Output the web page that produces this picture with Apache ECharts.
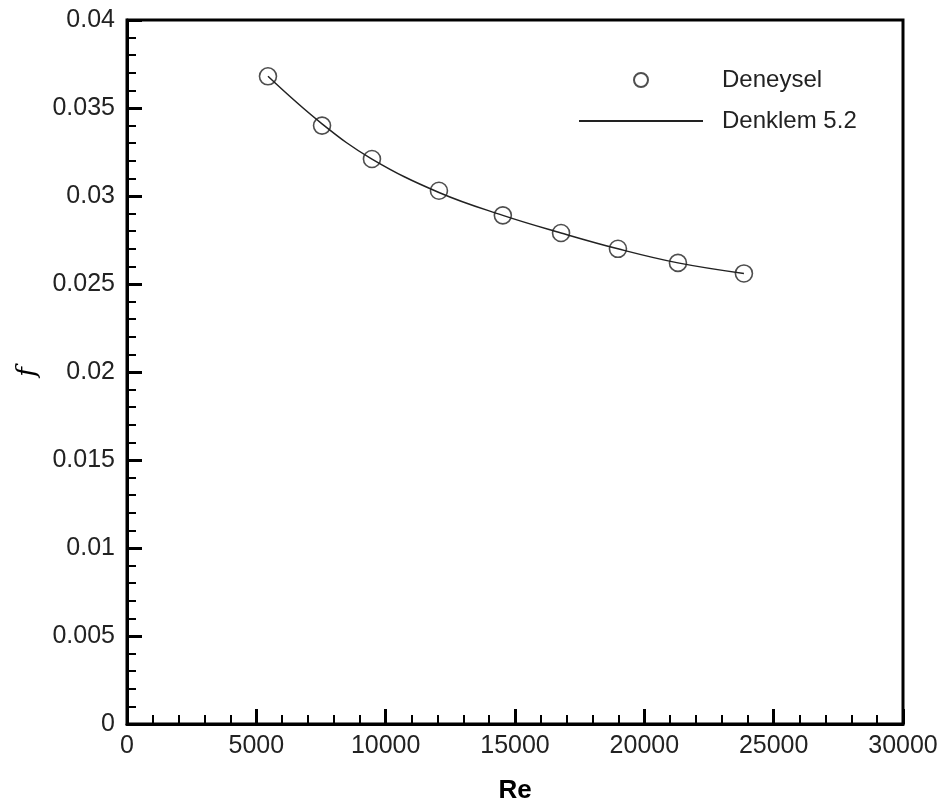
<!DOCTYPE html>
<html>
<head>
<meta charset="utf-8">
<script src="https://cdn.jsdelivr.net/npm/echarts@6/dist/echarts.min.js"></script>
<style>
  html, body { margin: 0; padding: 0; background: #fff; }
  #chart { width: 944px; height: 807px; }
</style>
</head>
<body>
<div id="chart"></div>
<script>
// measured points (Re, f)
const reValues = [5450, 7540, 9470, 12060, 14530, 16780, 18980, 21300, 23850];
const fDeneysel = [0.0368, 0.0340, 0.0321, 0.0303, 0.0289, 0.0279, 0.0270, 0.0262, 0.0256];
// Denklem 5.2 curve, read at the same Re values
const fDenklem = [0.0368, 0.0341, 0.0321, 0.0302, 0.0289, 0.0279, 0.0270, 0.0262, 0.0256];

const seriesNames = ['Deneysel', 'Denklem 5.2'];

const labelFont = 'Liberation Sans, Arial, sans-serif';

function renderChart() {
    const chart = echarts.init(document.getElementById('chart'));

    const option = {
        animation: false,
        grid: {
            left: 127,
            right: 41,
            top: 20,
            bottom: 83,
            outerBoundsMode: 'none',
            show: true,
            borderColor: '#000',
            borderWidth: 3
        },
        legend: {
            orient: 'vertical',
            left: 573,
            top: 63,
            itemWidth: 124,
            itemHeight: 14,
            itemGap: 17,
            textStyle: {
                fontFamily: labelFont,
                fontSize: 24,
                color: '#222',
                padding: [0, 0, 0, 14]
            },
            data: [
                { name: seriesNames[0], icon: 'circle' },
                { name: seriesNames[1], itemStyle: { opacity: 0 } }
            ]
        },
        xAxis: {
            type: 'value',
            min: 0,
            max: 30000,
            interval: 5000,
            name: 'Re',
            nameLocation: 'middle',
            nameGap: 54,
            nameTextStyle: {
                fontFamily: labelFont,
                fontSize: 26,
                fontWeight: 'bold',
                color: '#000'
            },
            axisLine: { lineStyle: { color: '#000', width: 3 } },
            axisTick: { inside: true, length: 15, lineStyle: { color: '#000', width: 3 } },
            minorTick: { show: true, splitNumber: 5, length: 9, lineStyle: { color: '#000', width: 2 } },
            splitLine: { show: false },
            axisLabel: {
                margin: 10,
                fontFamily: labelFont,
                fontSize: 25,
                color: '#222',
                formatter: function (value) {
                    return String(value);
                }
            }
        },
        yAxis: {
            type: 'value',
            min: 0,
            max: 0.04,
            interval: 0.005,
            name: 'f',
            nameLocation: 'middle',
            nameGap: 86,
            nameRotate: 90,
            nameTextStyle: {
                fontFamily: 'DejaVu Serif, serif',
                fontStyle: 'italic',
                fontSize: 26,
                color: '#000'
            },
            axisLine: { lineStyle: { color: '#000', width: 3 } },
            axisTick: { inside: true, length: 15, lineStyle: { color: '#000', width: 3 } },
            minorTick: { show: true, splitNumber: 5, length: 9, lineStyle: { color: '#000', width: 2 } },
            splitLine: { show: false },
            axisLabel: {
                margin: 12,
                fontFamily: labelFont,
                fontSize: 25,
                color: '#222',
                formatter: function (value) {
                    return String(parseFloat(value.toFixed(3)));
                }
            }
        },
        series: [
            {
                name: seriesNames[1],
                type: 'line',
                data: reValues.map((re, i) => [re, fDenklem[i]]),
                smooth: 0.4,
                symbol: 'none',
                lineStyle: { color: '#222', width: 1.5 },
                itemStyle: { color: '#222' },
                z: 2
            },
            {
                name: seriesNames[0],
                type: 'scatter',
                data: reValues.map((re, i) => [re, fDeneysel[i]]),
                symbol: 'circle',
                symbolSize: 17,
                itemStyle: {
                    color: 'rgba(255,255,255,0)',
                    borderColor: '#222',
                    borderWidth: 1.6
                },
                z: 3
            }
        ]
    };

    chart.setOption(option);
}

document.addEventListener('DOMContentLoaded', renderChart);
</script>
</body>
</html>
